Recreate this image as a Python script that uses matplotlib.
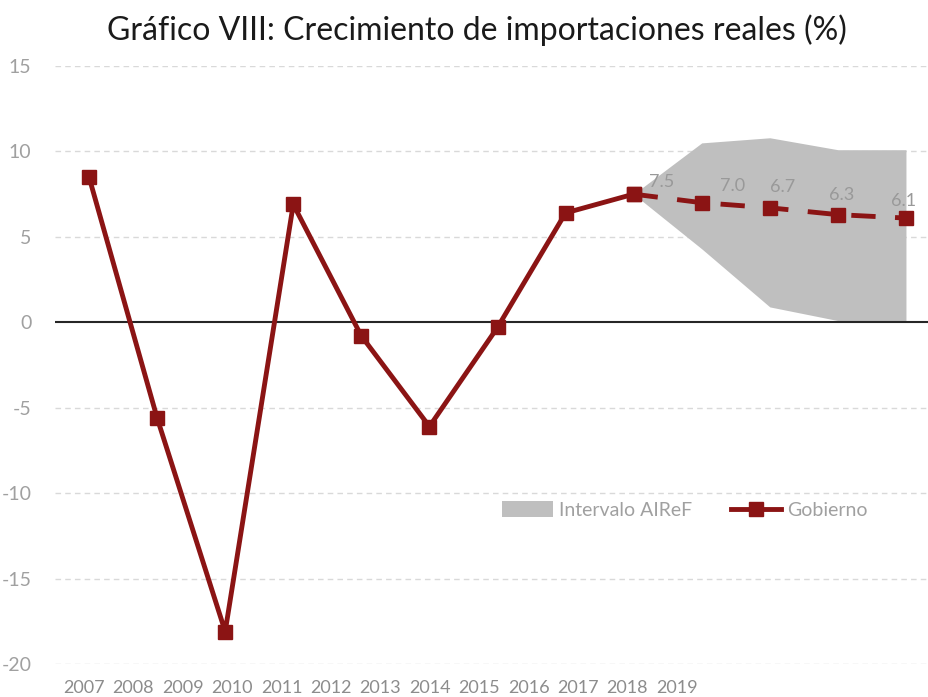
import matplotlib
matplotlib.use("Agg")
import matplotlib.pyplot as plt
from matplotlib.patches import Patch
from matplotlib.lines import Line2D

years = [2007, 2008, 2009, 2010, 2011, 2012, 2013, 2014, 2015, 2016, 2017, 2018, 2019]
gobierno = [8.5, -5.6, -18.1, 6.9, -0.8, -6.1, -0.3, 6.4, 7.5, 7.0, 6.7, 6.3, 6.1]
# AIReF interval (2015-2019)
band_years = [2015, 2016, 2017, 2018, 2019]
band_low = [7.5, 4.3, 0.9, 0.1, 0.1]
band_high = [7.5, 10.5, 10.8, 10.1, 10.1]
label_years = [2015, 2016, 2017, 2018, 2019]
label_values = ["7.5", "7.0", "6.7", "6.3", "6.1"]
yticks = [-20, -15, -10, -5, 0, 5, 10, 15]

RED = "#8B1414"
GREY_TXT = "#a0a0a0"
FONT = ["Lato", "DejaVu Sans"]
plt.rcParams["font.family"] = FONT

fig = plt.figure(figsize=(9.29, 6.97), dpi=100)
ax = fig.add_axes([55/929, 33/697, 885/929, 598/697])

xi = list(range(len(years)))
idx = {y: i for i, y in enumerate(years)}
bx = [idx[y] for y in band_years]

ax.fill_between(bx, band_low, band_high, color="#BFBFBF", lw=0, zorder=1)

for t in yticks:
    if t == 0:
        ax.axhline(t, color="#262626", lw=1.5, zorder=2)
    else:
        ax.axhline(t, color="#d9d9d9", lw=1, ls=(0, (4, 3)), zorder=0)

split = idx[2015]
ax.plot(xi[:split+1], gobierno[:split+1], color=RED, lw=3.5, marker="s", ms=10, zorder=3)
ax.plot(xi[split:], gobierno[split:], color=RED, lw=3.5, ls=(0, (5, 4)), marker="s", ms=10, zorder=3)

offsets = [(20, 9), (22, 12), (9, 15), (3, 14), (-2, 12)]
for yr, lab, off in zip(label_years, label_values, offsets):
    ax.annotate(lab, (idx[yr], gobierno[idx[yr]]), xytext=off, textcoords="offset points",
                ha="center", va="center", color="#999999", fontsize=13, zorder=5)

ax.set_xlim(-0.5, 12.5)
ax.set_ylim(-20, 15)
ax.set_yticks(yticks)
ax.set_yticklabels([str(t) for t in yticks])
ax.tick_params(axis="y", length=0, pad=17, labelsize=14, labelcolor=GREY_TXT)
ax.set_xticks([])
for s in ax.spines.values():
    s.set_visible(False)
ax.patch.set_alpha(0)

# category labels packed at the bottom-left, as in the original
for i, y in enumerate(years):
    fig.text((84 + 49.4 * i) / 929, 1 - 688 / 697, str(y), ha="center", va="center",
             color="#8c8c8c", fontsize=13)

fig.text(477 / 929, 1 - 30 / 697, "Gráfico VIII: Crecimiento de importaciones reales (%)",
         ha="center", va="center", fontsize=23, color="#1a1a1a")

handles = [Patch(facecolor="#BFBFBF", edgecolor="none", label="Intervalo AIReF"),
           Line2D([], [], color=RED, lw=3.5, marker="s", ms=10, label="Gobierno")]
fig.legend(handles=handles, loc="center", bbox_to_anchor=(685 / 929, 1 - 510 / 697), ncol=2,
           frameon=False, fontsize=14, labelcolor=GREY_TXT, handlelength=2.6,
           handleheight=0.9, handletextpad=0.3, columnspacing=2.0)

fig.savefig("out.png", dpi=100)
